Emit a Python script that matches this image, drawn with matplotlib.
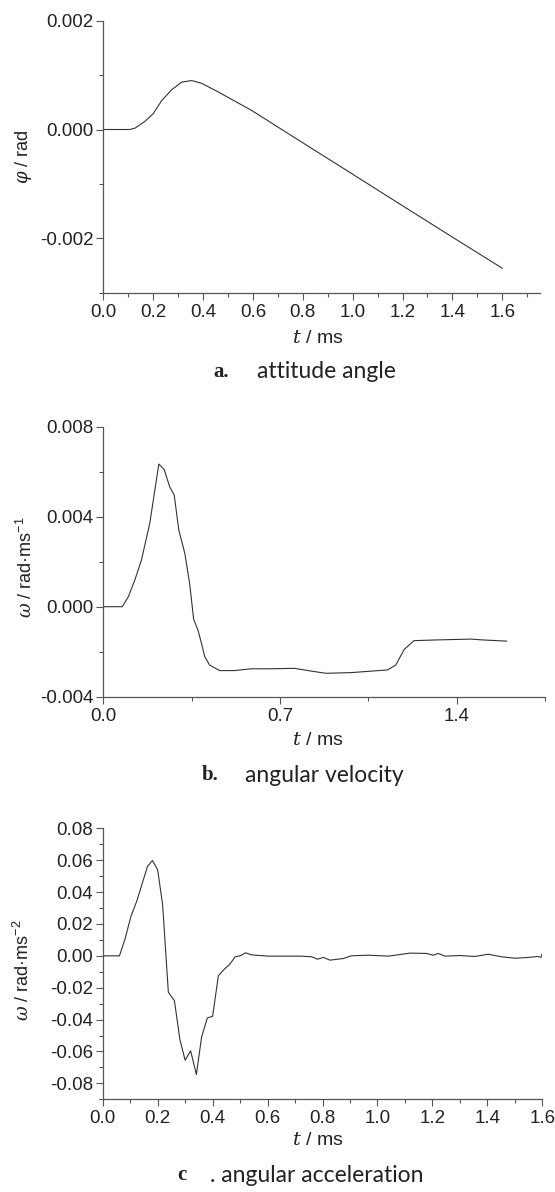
import matplotlib
matplotlib.use("Agg")
import matplotlib.pyplot as plt
from matplotlib.ticker import MultipleLocator

plt.rcParams['font.family'] = ['Liberation Sans', 'DejaVu Sans']
plt.rcParams['mathtext.fontset'] = 'dejavuserif'

# a. attitude angle
t_a = [0, 0.107, 0.127, 0.167, 0.2, 0.234, 0.274, 0.314, 0.354, 0.394, 0.461, 0.595,
       0.795, 0.996, 1.196, 1.397, 1.6]
phi = [0, 0, 0.000025, 0.00015, 0.00029, 0.00053, 0.00073, 0.00087, 0.0009, 0.00085,
       0.00069, 0.00035, -0.00023, -0.00081, -0.00139, -0.00197, -0.00255]

# b. angular velocity
t_b = [0, 0.075, 0.099, 0.125, 0.151, 0.184, 0.22, 0.241, 0.263, 0.281, 0.299, 0.323,
       0.342, 0.358, 0.375, 0.389, 0.402, 0.421, 0.461, 0.52, 0.586, 0.652, 0.757,
       0.823, 0.882, 0.981, 1.126, 1.159, 1.192, 1.231, 1.31, 1.455, 1.508, 1.598]
omega = [0, 0, 0.00044, 0.00119, 0.00207, 0.0037, 0.00634, 0.0061, 0.00533, 0.00496,
         0.00341, 0.00237, 0.00104, -0.00056, -0.00104, -0.00163, -0.00222, -0.00259,
         -0.00284, -0.00284, -0.00276, -0.00276, -0.00274, -0.00286, -0.00296, -0.00293,
         -0.00281, -0.00259, -0.0019, -0.00151, -0.00148, -0.00144, -0.00148, -0.00153]

# c. angular acceleration
t_c = [0, 0.061, 0.081, 0.103, 0.124, 0.163, 0.181, 0.2, 0.218, 0.239, 0.261, 0.281,
       0.3, 0.32, 0.341, 0.36, 0.381, 0.4, 0.421, 0.443, 0.463, 0.482, 0.5, 0.52, 0.542,
       0.603, 0.664, 0.724, 0.761, 0.782, 0.803, 0.827, 0.876, 0.904, 0.967, 1.04, 1.064,
       1.118, 1.179, 1.203, 1.221, 1.246, 1.3, 1.355, 1.403, 1.452, 1.501, 1.549, 1.585,
       1.595, 1.6]
alpha = [0, 0, 0.0104, 0.0249, 0.0343, 0.0561, 0.0598, 0.054, 0.0322, -0.0229, -0.0281,
         -0.0526, -0.0655, -0.0596, -0.0744, -0.0509, -0.0389, -0.038, -0.0125, -0.0083,
         -0.0052, -0.0006, 0, 0.0019, 0.0006, -0.0002, -0.0002, -0.0002, -0.0006, -0.0021,
         -0.001, -0.0027, -0.0017, 0, 0.0004, -0.0002, 0.0004, 0.0017, 0.0015, 0.0004,
         0.0015, -0.0002, 0.0002, -0.0004, 0.001, -0.0006, -0.0015, -0.001, -0.0004,
         -0.001, 0.0015]

axcol = '#555555'
linecol = '#333333'
txtcol = '#222222'
W, H = 555, 1192

fig = plt.figure(figsize=(W / 100, H / 100), dpi=100)


def add_axes(left, right, top, bottom):
    return fig.add_axes([left / W, 1 - bottom / H, (right - left) / W, (bottom - top) / H])


def style(ax, xlab, ylab, xl_pos, yl_pos):
    for s in ['top', 'right']:
        ax.spines[s].set_visible(False)
    for s in ['left', 'bottom']:
        ax.spines[s].set_color(axcol)
        ax.spines[s].set_linewidth(0.9)
    ax.tick_params(which='both', direction='out', color=axcol, width=0.8,
                   labelsize=13.5, labelcolor=txtcol)
    ax.tick_params(which='major', length=5)
    ax.tick_params(which='minor', length=3)
    ax.tick_params(axis='x', pad=3)
    ax.tick_params(axis='y', pad=2)
    ax.set_xlabel(xlab, fontsize=14, color=txtcol)
    ax.set_ylabel(ylab, fontsize=13, color=txtcol)
    ax.xaxis.set_label_coords(*xl_pos)
    ax.xaxis.label.set_va('center')
    ax.yaxis.set_label_coords(*yl_pos)
    ax.yaxis.label.set_va('center')


def caption(y, bold, text, xb, xt):
    fig.text(xb / W, 1 - y / H, bold, family='Liberation Serif', weight='bold',
             fontsize=15, va='center', ha='left', color=txtcol)
    fig.text(xt / W, 1 - y / H, text, family='Lato', fontsize=16.5,
             va='center', ha='left', color=txtcol)


# panel a
ax = add_axes(103.3, 539.7, 20.7, 292.7)
ax.plot(t_a, phi, color=linecol, lw=0.8)
ax.set_xlim(0, 1.75)
ax.set_ylim(-0.003, 0.002)
ax.set_xticks([0, 0.2, 0.4, 0.6, 0.8, 1.0, 1.2, 1.4, 1.6])
ax.set_xticklabels(['0.0', '0.2', '0.4', '0.6', '0.8', '1.0', '1.2', '1.4', '1.6'])
ax.xaxis.set_minor_locator(MultipleLocator(0.1))
ax.set_yticks([-0.002, 0.0, 0.002])
ax.set_yticklabels(['-0.002', '0.000', '0.002'])
ax.yaxis.set_minor_locator(MultipleLocator(0.001))
style(ax, r'$t$ / ms', r'$\varphi$ / rad', (0.492, -0.168), (-0.182, 0.5))
caption(371.7, 'a.', 'attitude angle', 213, 257)

# panel b
ax = add_axes(103.3, 545, 426.7, 696.7)
ax.plot(t_b, omega, color=linecol, lw=0.8)
ax.set_xlim(0, 1.75)
ax.set_ylim(-0.004, 0.008)
ax.set_xticks([0, 0.7, 1.4])
ax.set_xticklabels(['0.0', '0.7', '1.4'])
ax.xaxis.set_minor_locator(MultipleLocator(0.35))
ax.set_yticks([-0.004, 0.0, 0.004, 0.008])
ax.set_yticklabels(['-0.004', '0.000', '0.004', '0.008'])
ax.yaxis.set_minor_locator(MultipleLocator(0.002))
style(ax, r'$t$ / ms', r'$\omega$ / rad·ms$^{\mathregular{-1}}$', (0.486, -0.163), (-0.174, 0.48))
caption(775, 'b.', 'angular velocity', 201.7, 245)

# panel c
ax = add_axes(102.7, 542.3, 828.3, 1099.3)
ax.plot(t_c, alpha, color=linecol, lw=0.8)
ax.set_xlim(0, 1.6)
ax.set_ylim(-0.09, 0.08)
ax.set_xticks([0, 0.2, 0.4, 0.6, 0.8, 1.0, 1.2, 1.4, 1.6])
ax.set_xticklabels(['0.0', '0.2', '0.4', '0.6', '0.8', '1.0', '1.2', '1.4', '1.6'])
ax.xaxis.set_minor_locator(MultipleLocator(0.1))
ax.set_yticks([-0.08, -0.06, -0.04, -0.02, 0.0, 0.02, 0.04, 0.06, 0.08])
ax.set_yticklabels(['-0.08', '-0.06', '-0.04', '-0.02', '0.00', '0.02', '0.04', '0.06', '0.08'])
ax.yaxis.set_minor_locator(MultipleLocator(0.01))
style(ax, r'$t$ / ms', r'$\omega$ / rad·ms$^{\mathregular{-2}}$', (0.490, -0.153), (-0.181, 0.477))
caption(1175, 'c', '. angular acceleration', 177, 210)

fig.savefig('out.png', dpi=100)
